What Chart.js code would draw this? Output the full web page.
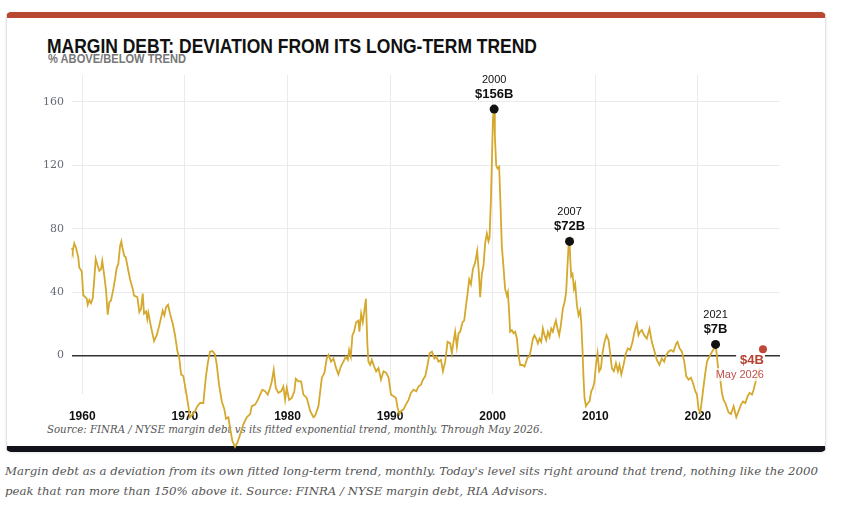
<!DOCTYPE html>
<html><head><meta charset="utf-8">
<script src="https://cdn.jsdelivr.net/npm/chart.js@4.4.1/dist/chart.umd.min.js"></script>
<style>
html,body{margin:0;padding:0;background:#fff;width:845px;height:506px;overflow:hidden;}
#card{position:absolute;left:6px;top:12px;width:818px;height:428px;background:#fff;border:1px solid #e2e2e2;border-top:6px solid #b84832;border-bottom:6px solid #12131a;border-radius:5px;box-shadow:0 1px 3px rgba(0,0,0,0.10);}
.t{position:absolute;white-space:nowrap;}
#title{left:47px;top:36px;font:bold 20px/20px "Liberation Sans",Arial,sans-serif;color:#111;}
#sub{left:48px;top:52.5px;font:bold 12px/12px "Liberation Sans",Arial,sans-serif;color:#777;}
#src{left:47px;top:422px;font:italic 12px/16px "DejaVu Serif",Georgia,serif;color:#555;}
.cap{left:5px;font:italic 13px/20px "DejaVu Serif",Georgia,serif;color:#555;}
#cap1{top:461px;}
#cap2{top:481px;}
canvas{position:absolute;left:0;top:0;}
</style></head>
<body>
<div id="card"></div>
<div class="t" id="title">MARGIN DEBT: DEVIATION FROM ITS LONG-TERM TREND</div>
<div class="t" id="sub">% ABOVE/BELOW TREND</div>
<div class="t" id="src">Source: FINRA / NYSE margin debt vs its fitted exponential trend, monthly. Through May 2026.</div>
<div class="t cap" id="cap1">Margin debt as a deviation from its own fitted long-term trend, monthly. Today's level sits right around that trend, nothing like the 2000</div>
<div class="t cap" id="cap2">peak that ran more than 150% above it. Source: FINRA / NYSE margin debt, RIA Advisors.</div>
<canvas id="c" width="845" height="506"></canvas>
<script>
// ---- data (decimal year, % deviation from trend) ----
const years = [1959.00,1959.07,1959.22,1959.39,1959.61,1959.71,1959.95,1960.10,1960.43,1960.53,1960.69,1960.85,1961.02,1961.17,1961.31,1961.51,1961.66,1961.83,1961.95,1962.15,1962.32,1962.48,1962.64,1962.80,1963.03,1963.19,1963.36,1963.51,1963.68,1963.81,1963.94,1964.10,1964.24,1964.43,1964.66,1964.92,1965.05,1965.37,1965.56,1965.73,1965.89,1966.02,1966.22,1966.34,1966.44,1966.67,1967.00,1967.26,1967.51,1967.84,1968.00,1968.17,1968.36,1968.55,1968.82,1969.04,1969.27,1969.46,1969.63,1969.85,1970.11,1970.34,1970.50,1970.77,1970.99,1971.22,1971.48,1971.80,1972.04,1972.23,1972.45,1972.68,1972.94,1973.11,1973.33,1973.60,1973.85,1974.01,1974.24,1974.40,1974.63,1974.89,1975.12,1975.38,1975.70,1976.03,1976.36,1976.52,1976.84,1977.11,1977.33,1977.55,1977.82,1978.08,1978.30,1978.47,1978.66,1978.86,1979.11,1979.38,1979.60,1979.77,1979.93,1980.16,1980.42,1980.67,1980.81,1981.06,1981.33,1981.55,1981.88,1982.21,1982.53,1982.69,1983.02,1983.35,1983.60,1983.83,1983.99,1984.25,1984.48,1984.74,1984.96,1985.20,1985.45,1985.69,1985.88,1986.01,1986.17,1986.33,1986.49,1986.69,1986.91,1987.01,1987.18,1987.34,1987.47,1987.64,1987.79,1987.89,1988.06,1988.22,1988.45,1988.64,1988.87,1989.11,1989.36,1989.63,1989.85,1990.09,1990.34,1990.57,1990.73,1990.92,1991.08,1991.31,1991.54,1991.80,1992.03,1992.29,1992.55,1992.78,1993.01,1993.20,1993.43,1993.65,1993.85,1994.08,1994.31,1994.50,1994.72,1994.96,1995.15,1995.37,1995.60,1995.86,1996.02,1996.18,1996.34,1996.51,1996.67,1996.83,1997.06,1997.22,1997.42,1997.55,1997.71,1997.88,1998.07,1998.29,1998.49,1998.65,1998.78,1998.94,1999.10,1999.27,1999.43,1999.59,1999.69,1999.82,1999.92,2000.02,2000.14,2000.21,2000.34,2000.47,2000.63,2000.73,2000.89,2001.05,2001.21,2001.38,2001.48,2001.60,2001.70,2001.87,2002.03,2002.19,2002.36,2002.51,2002.68,2002.90,2003.10,2003.26,2003.43,2003.59,2003.75,2003.92,2004.07,2004.24,2004.40,2004.56,2004.73,2004.89,2005.05,2005.21,2005.38,2005.54,2005.70,2005.86,2006.02,2006.16,2006.31,2006.48,2006.64,2006.84,2007.00,2007.16,2007.29,2007.39,2007.49,2007.56,2007.65,2007.78,2007.92,2008.04,2008.21,2008.37,2008.53,2008.63,2008.76,2008.85,2008.95,2009.09,2009.28,2009.44,2009.60,2009.77,2009.92,2010.06,2010.22,2010.38,2010.55,2010.70,2010.90,2011.09,2011.29,2011.45,2011.62,2011.81,2012.01,2012.20,2012.36,2012.53,2012.75,2012.98,2013.18,2013.40,2013.63,2013.82,2014.05,2014.21,2014.37,2014.53,2014.76,2015.02,2015.28,2015.51,2015.73,2016.00,2016.25,2016.48,2016.71,2016.91,2017.13,2017.37,2017.62,2017.89,2018.01,2018.21,2018.44,2018.67,2018.86,2019.09,2019.32,2019.52,2019.74,2019.91,2020.06,2020.23,2020.39,2020.55,2020.72,2020.88,2021.11,2021.30,2021.47,2021.60,2021.72,2021.86,2022.01,2022.18,2022.34,2022.50,2022.67,2022.83,2022.99,2023.22,2023.48,2023.74,2023.97,2024.20,2024.40,2024.62,2024.85,2025.04,2025.27,2025.43,2025.59,2025.76,2025.92,2026.08,2026.23,2026.34];
const deviation = [68,66,70.7,68,62,55.5,53,38,36,32,35,33,36,48,61,56.5,53.4,54.5,59.7,50,41,25.7,33.6,34.7,42,48,55.5,57.6,69,72,67,62.8,62,55.5,48,42,37.8,36.8,27.4,29.5,39,26.4,27.8,23,27,19,9,12.8,19,28.4,25.3,30.5,32,26.4,20,12.8,2.8,-1.8,-12,-13,-22.6,-32,-39,-37,-35,-32,-30,-30,-14,-5,2.4,2.8,0.7,-6,-18.4,-29,-34,-40,-39,-45.5,-54,-57.6,-55,-50,-43.4,-39,-37,-32,-31,-28,-24.7,-21.6,-22.6,-24.7,-20.5,-16.4,-9,-20.5,-23.6,-22.6,-19.5,-28,-20.5,-28,-26.8,-22.6,-14.7,-16.4,-16.4,-24.7,-26.8,-35,-39,-38,-32,-14,-11,-1.8,0.3,-3.9,-1.8,-8,-12,-7,-3.9,-0.7,-2.8,3.4,-0.7,12.8,15,21,22,15,26.4,21,27.4,35.7,6.6,-3.9,-6,-2.8,-7,-10,-8,-15.3,-10,-11,-14,-24.7,-25.7,-26.8,-33,-37,-35,-34,-31,-28,-23.6,-21.6,-22.6,-19.5,-18.4,-15.3,-13,-6,1.4,2.4,-1.8,-0.7,-3.9,-2.8,-10,-3.9,8.6,7.6,1.4,8.6,15,5.5,14,15,21,22,32.6,38.9,48,45,54.5,58.6,66,52.4,36.8,51.4,56.6,71,77,72,74.2,97,122,149,155.5,139,120,118,119,101,69,56,42,37.8,40,27.4,15,16,14,15,10.7,0.3,-6,-6,-7,-4,-0.7,-0.7,4.5,10.7,12.8,10.7,7.6,10.7,8.6,17,12.8,9.7,15,11.7,17,15,19,22,17,12.8,19,29.5,33.6,40,56.6,69,72,60.7,50,51.4,42,45,31.6,25.3,28.4,21,2.4,-14,-26.8,-32,-30,-29,-22.6,-20.5,-16.4,-6,1.4,-10,-8,1.4,8.6,12.8,9.7,1.4,-8,-10,-4.9,-10,-6,-12,-6,1.4,4.5,3.4,8.6,15,20,12.8,15,16,12.8,10.7,17,8.6,3.4,-2.8,-6,-1.8,-3.9,0.3,2.4,3.4,2.4,7.6,8.6,4.5,2.4,-3.9,-13,-15.3,-14,-17.4,-22.6,-24.7,-34,-36,-28,-19.5,-11,-3.9,-0.7,1.4,3.4,4.5,7,-0.7,-11,-15.3,-23.6,-28,-30,-33,-36,-37,-32,-39,-35,-31,-29,-30,-25.7,-23.6,-24.7,-21.6,-17.4,-13,-10,-7,-1,4];

const peakYears = [2000.14, 2007.49, 2021.72];
const peakValues = [155.5, 72, 7];
const peakYearLabels = ['2000', '2007', '2021'];
const peakAmountLabels = ['$156B', '$72B', '$7B'];

const latestYears = [2026.34];
const latestValues = [4];
const latestAmountLabel = '$4B';
const latestDateLabel = 'May 2026';

const xTickValues = [1960, 1970, 1980, 1990, 2000, 2010, 2020];
const yTickValues = [0, 40, 80, 120, 160];

// ---- text fitting ----
function fitScale(id, target){ const el=document.getElementById(id); const w=el.getBoundingClientRect().width; el.style.transformOrigin='0 0'; el.style.transform='scaleX('+(target/w)+')'; }
function fitFont(id, target, others){ const el=document.getElementById(id); const w=el.getBoundingClientRect().width; const fs=parseFloat(getComputedStyle(el).fontSize)*target/w; el.style.fontSize=fs+'px'; (others||[]).forEach(o=>document.getElementById(o).style.fontSize=fs+'px'); }
fitScale('title', 490);
fitScale('sub', 138);
fitFont('src', 496);
fitFont('cap1', 813, ['cap2']);

const SANS = '"Liberation Sans", Arial, sans-serif';

const labelPlugin = {
  id: 'peakLabels',
  afterDatasetDraw(chart, args) {
    if (args.index !== 0) return;
    const ctx = chart.ctx;
    const x = chart.scales.x, y = chart.scales.y;
    ctx.save();
    ctx.textBaseline = 'middle';
    ctx.textAlign = 'center';
    ctx.fillStyle = '#111';
    peakYears.forEach((yr, i) => {
      const px = x.getPixelForValue(yr), py = y.getPixelForValue(peakValues[i]);
      ctx.font = '11px ' + SANS;
      ctx.fillText(peakYearLabels[i], px, py - 29);
      ctx.font = 'bold 13px ' + SANS;
      ctx.fillText(peakAmountLabels[i], px, py - 14.5);
    });
    const lx = x.getPixelForValue(latestYears[0]) + 1, ly = y.getPixelForValue(latestValues[0]);
    ctx.textAlign = 'right';
    ctx.font = 'bold 13px ' + SANS;
    const w1 = ctx.measureText(latestAmountLabel).width;
    ctx.fillStyle = '#fff';
    ctx.fillRect(lx - w1 - 4, ly + 3, w1 + 5, 16);
    ctx.font = '11px ' + SANS;
    const w2 = ctx.measureText(latestDateLabel).width;
    ctx.fillStyle = 'rgba(255,255,255,0.75)';
    ctx.fillRect(lx - w2 - 2, ly + 19, w2 + 3, 13);
    ctx.font = 'bold 13px ' + SANS;
    ctx.fillStyle = '#b5412f';
    ctx.fillText(latestAmountLabel, lx, ly + 11.5);
    ctx.font = '11px ' + SANS;
    ctx.fillStyle = '#c0504d';
    ctx.fillText(latestDateLabel, lx, ly + 25.5);
    ctx.restore();
  }
};

new Chart(document.getElementById('c'), {
  type: 'scatter',
  data: {
    datasets: [
      { data: years.map((yr, i) => ({x: yr, y: deviation[i]})), showLine: true, borderColor: '#d4a92e', borderWidth: 1.8, pointRadius: 0, tension: 0, clip: false, order: 3 },
      { data: peakYears.map((yr, i) => ({x: yr, y: peakValues[i]})), showLine: false, pointRadius: 4.5, pointBackgroundColor: '#111', pointBorderWidth: 0, clip: false, order: 1 },
      { data: latestYears.map((yr, i) => ({x: yr, y: latestValues[i]})), showLine: false, pointRadius: 4, pointBackgroundColor: '#c0483a', pointBorderWidth: 0, clip: false, order: 0 }
    ]
  },
  options: {
    responsive: false,
    animation: false,
    events: [],
    layout: { padding: { left: 0, right: 65, top: 75, bottom: 0 } },
    plugins: { legend: { display: false }, tooltip: { enabled: false } },
    scales: {
      x: {
        type: 'linear', min: 1959, max: 2028,
        afterBuildTicks: s => { s.ticks = xTickValues.map(v => ({value: v})); },
        afterFit: s => { s.height = 112.5; },
        grid: { color: '#ebebeb', lineWidth: 1, drawTicks: false },
        border: { display: false },
        ticks: { padding: 16, color: '#111', autoSkip: false, maxRotation: 0, font: { family: SANS, size: 12, weight: 'bold' }, callback: v => String(v) }
      },
      y: {
        min: -24, max: 177,
        afterBuildTicks: s => { s.ticks = yTickValues.map(v => ({value: v})); },
        afterFit: s => { s.width = 72; },
        grid: { color: c => (c.tick && c.tick.value === 0) ? '#333' : '#ebebeb', lineWidth: c => (c.tick && c.tick.value === 0) ? 1.5 : 1, drawTicks: false },
        border: { display: false },
        ticks: { padding: 8, color: '#666a75', font: { family: '"DejaVu Serif", Georgia, serif', size: 11 }, callback: v => String(v) }
      }
    }
  },
  plugins: [labelPlugin]
});
</script>
</body></html>
